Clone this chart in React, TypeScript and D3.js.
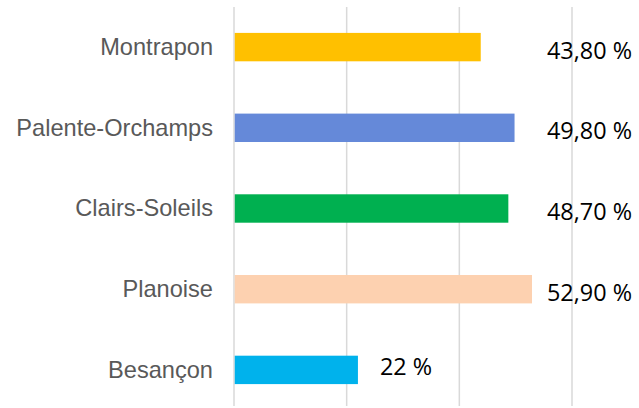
import React from "react";
import * as d3 from "d3";

const categories = ["Montrapon", "Palente-Orchamps", "Clairs-Soleils", "Planoise", "Besançon"];
const values = [43.8, 49.8, 48.7, 52.9, 22];
const valueLabels = ["43,80 %", "49,80 %", "48,70 %", "52,90 %", "22 %"];
const colors = ["#FFC000", "#6589D9", "#00B050", "#FDD1B0", "#00B2EC"];
const gridTicks = [0, 20, 40, 60];

export default function App() {
  const W = 639;
  const H = 408;
  const x = d3.scaleLinear().domain([0, 60]).range([234, 572]);
  const y = d3
    .scaleBand<string>()
    .domain(categories)
    .range([7, 410])
    .paddingInner(0.648)
    .paddingOuter(0.321);
  const bw = y.bandwidth();

  return (
    <svg
      width={W}
      height={H}
      style={{ position: "absolute", left: 0, top: 0, background: "#fff" }}
    >
      <rect x={0} y={0} width={W} height={H} fill="#fff" />
      {gridTicks.map((t) => (
        <line
          key={t}
          x1={x(t)}
          x2={x(t)}
          y1={7}
          y2={406}
          stroke="#d9d9d9"
          strokeWidth={1.5}
        />
      ))}
      {categories.map((c, i) => {
        const yc = (y(c) as number) + bw / 2;
        const bx = x(values[i]);
        const lx = values[i] > 30 ? 547 : bx + 22;
        const ldy = values[i] > 30 ? 11.4 : 4.7;
        return (
          <g key={c}>
            <rect x={x(0) + 0.75} y={y(c)} width={bx - x(0) - 0.75} height={bw} fill={colors[i]} />
            <text
              x={213}
              y={yc + 7.8}
              textAnchor="end"
              fontFamily="Liberation Sans, Arial, sans-serif"
              fontSize={23.6}
              fill="#595959"
            >
              {c}
            </text>
            <text
              x={lx}
              y={yc + ldy}
              fontFamily="Open Sans, sans-serif"
              fontSize={23.4}
              fill="#000"
            >
              {valueLabels[i]}
            </text>
          </g>
        );
      })}
    </svg>
  );
}
